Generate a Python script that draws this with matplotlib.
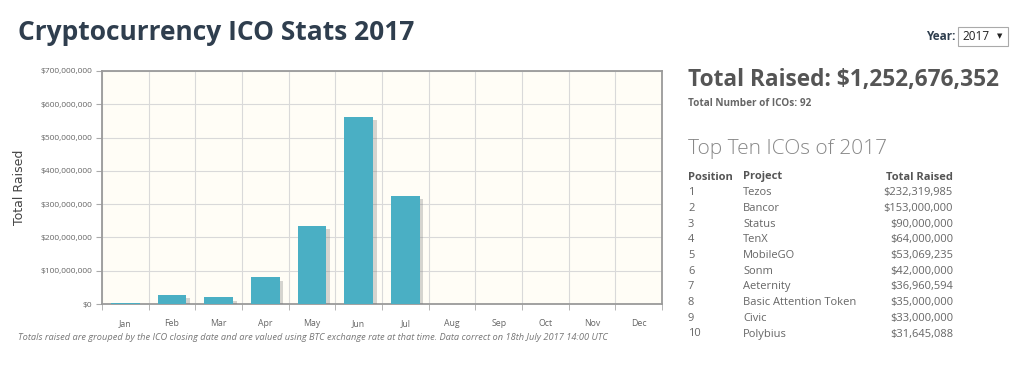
import matplotlib
matplotlib.use('Agg')
import matplotlib.pyplot as plt
import matplotlib.patheffects as pe
from matplotlib.patches import FancyBboxPatch
from matplotlib.ticker import FuncFormatter, MultipleLocator

months = ['Jan', 'Feb', 'Mar', 'Apr', 'May', 'Jun', 'Jul', 'Aug', 'Sep', 'Oct', 'Nov', 'Dec']
raised = [3e6, 27e6, 20e6, 81e6, 235e6, 562e6, 325e6, 0, 0, 0, 0, 0]

positions = ['1', '2', '3', '4', '5', '6', '7', '8', '9', '10']
projects = ['Tezos', 'Bancor', 'Status', 'TenX', 'MobileGO', 'Sonm', 'Aeternity',
            'Basic Attention Token', 'Civic', 'Polybius']
amounts = ['$232,319,985', '$153,000,000', '$90,000,000', '$64,000,000', '$53,069,235',
           '$42,000,000', '$36,960,594', '$35,000,000', '$33,000,000', '$31,645,088']

FONT = ['Open Sans', 'DejaVu Sans']
plt.rcParams['font.family'] = FONT

W, H = 1024, 378
fig = plt.figure(figsize=(W / 100, H / 100), dpi=100)
fig.patch.set_facecolor('white')

def px(x0, y0, x1, y1):
    return [x0 / W, 1 - y1 / H, (x1 - x0) / W, (y1 - y0) / H]

ax = fig.add_axes(px(102, 71, 662, 304))
ax.set_facecolor('#fffdf6')
x = list(range(len(months)))
bars = ax.bar(x, raised, width=0.62, color='#4aafc4', zorder=3)
for b in bars:
    b.set_path_effects([pe.SimplePatchShadow(offset=(2.5, -2.5), shadow_rgbFace='#777777', alpha=0.3),
                        pe.Normal()])
ax.set_xlim(-0.5, 11.5)
ax.set_ylim(0, 700e6)
ax.yaxis.set_major_locator(MultipleLocator(100e6))
ax.yaxis.set_major_formatter(FuncFormatter(lambda v, p: f'${v:,.0f}'))
ax.set_xticks(x)
ax.set_xticklabels(months)
ax.set_xticks([i + 0.5 for i in range(-1, 12)], minor=True)
ax.grid(True, which='minor', axis='x', color='#d9d9d9', lw=0.8, zorder=0)
ax.grid(True, which='major', axis='y', color='#d9d9d9', lw=0.8, zorder=0)
ax.tick_params(axis='x', which='major', length=0, labelsize=6.3, colors='#666666', pad=11)
ax.tick_params(axis='x', which='minor', length=4, color='#aaaaaa', direction='out')
ax.tick_params(axis='y', length=4, color='#aaaaaa', labelsize=6, colors='#666666', pad=3)
for s in ax.spines.values():
    s.set_color('#9a9a9a')
    s.set_linewidth(1.3)
ax.set_ylabel('Total Raised', fontsize=9, color='#444444', labelpad=10, family=['DejaVu Sans'])

# title
fig.text(18 / W, 1 - 32 / H, 'Cryptocurrency ICO Stats 2017', fontsize=19, fontweight='bold',
         color='#2f3e4e', va='center', ha='left')

# year selector
fig.text(955 / W, 1 - 37 / H, 'Year:', fontsize=8.5, fontweight='bold', color='#2f3e4e',
         va='center', ha='right')
box = FancyBboxPatch((958 / W, 1 - 46 / H), 50 / W, 19 / H, boxstyle='square,pad=0',
                     transform=fig.transFigure, fc='white', ec='#aaaaaa', lw=0.8)
fig.patches.append(box)
fig.text(962 / W, 1 - 36.5 / H, '2017', fontsize=8.5, color='#222222', va='center', ha='left')
fig.text(1000 / W, 1 - 36 / H, '▼', fontsize=5, color='#222222', va='center', ha='center',
         family=['DejaVu Sans'])

# summary
fig.text(688 / W, 1 - 80 / H, 'Total Raised: $1,252,676,352', fontsize=16.3, fontweight='bold',
         color='#555555', va='center', ha='left')
fig.text(688 / W, 1 - 103 / H, 'Total Number of ICOs: 92', fontsize=7.2, fontweight='bold',
         color='#666666', va='center', ha='left')
fig.text(688 / W, 1 - 149 / H, 'Top Ten ICOs of 2017', fontsize=15, fontweight='light',
         color='#888888', va='center', ha='left')

# table (baseline-aligned so descenders don't shift rows)
hy = 179.5
fig.text(688 / W, 1 - hy / H, 'Position', fontsize=8, fontweight='bold', color='#555555', va='baseline')
fig.text(743 / W, 1 - hy / H, 'Project', fontsize=8, fontweight='bold', color='#555555', va='baseline')
fig.text(953 / W, 1 - hy / H, 'Total Raised', fontsize=8, fontweight='bold', color='#555555',
         va='baseline', ha='right')
for i, (p, n, a) in enumerate(zip(positions, projects, amounts)):
    y = 1 - (hy + 15.7 * (i + 1)) / H
    fig.text(688 / W, y, p, fontsize=8, color='#666666', va='baseline')
    fig.text(743 / W, y, n, fontsize=8, color='#666666', va='baseline')
    fig.text(953 / W, y, a, fontsize=8, color='#666666', va='baseline', ha='right')

# footnote
fig.text(18 / W, 1 - 338 / H,
         'Totals raised are grouped by the ICO closing date and are valued using BTC exchange rate '
         'at that time. Data correct on 18th July 2017 14:00 UTC',
         fontsize=6.7, style='italic', color='#777777', va='center', ha='left')

fig.savefig('out.png', dpi=100)
